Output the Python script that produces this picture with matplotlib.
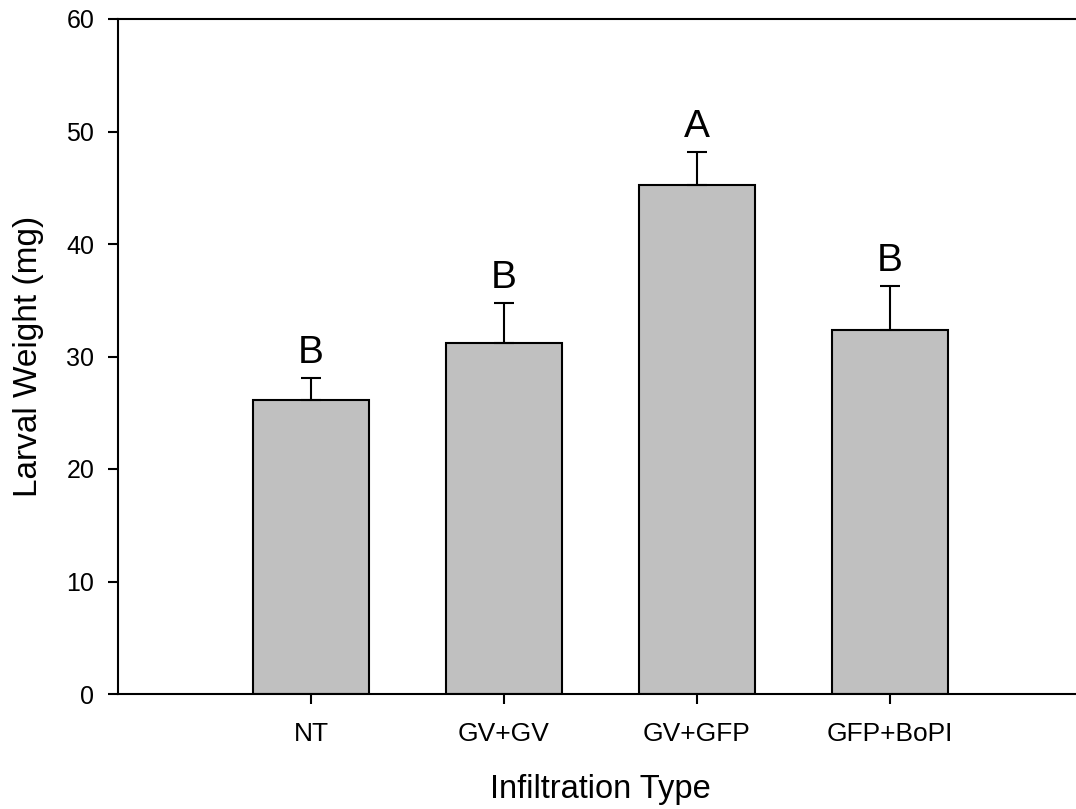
import matplotlib
matplotlib.use("Agg")
import matplotlib.pyplot as plt

categories = ["NT", "GV+GV", "GV+GFP", "GFP+BoPI"]
means = [26.1, 31.2, 45.2, 32.4]
errors = [2.0, 3.6, 3.0, 3.9]
letters = ["B", "B", "A", "B"]

plt.rcParams['font.family'] = ['Liberation Sans', 'DejaVu Sans']

W, H = 1076, 809
fig = plt.figure(figsize=(W / 100, H / 100), dpi=100)
left, bottom, top = 118, 694, 19
ax = fig.add_axes([left / W, 1 - bottom / H, 965 / W, (bottom - top) / H])

x = [1, 2, 3, 4]
ax.bar(x, means, width=0.6, color="#C0C0C0", edgecolor="black", linewidth=1.5, zorder=2)
for xi, m, e, l in zip(x, means, errors, letters):
    ax.errorbar([xi], [m], yerr=[[0], [e]], fmt="none", ecolor="black",
                elinewidth=1.5, capsize=7, capthick=1.5, zorder=3)
    ax.annotate(l, (xi, m + e), xytext=(0, 5), textcoords="offset points",
                ha="center", va="bottom", fontsize=28)

ax.set_xlim(0, 5)
ax.set_ylim(0, 60)
ax.set_yticks([0, 10, 20, 30, 40, 50, 60])
ax.set_xticks(x)
ax.set_xticklabels(categories)
ax.tick_params(axis="both", direction="out", length=7, width=1.5)
ax.tick_params(axis="x", pad=13, labelsize=19)
ax.tick_params(axis="y", pad=10, labelsize=18)
for s in ax.spines.values():
    s.set_linewidth(1.5)
ax.set_xlabel("Infiltration Type", fontsize=23.5, labelpad=20)
ax.set_ylabel("Larval Weight (mg)", fontsize=24, labelpad=16)

fig.savefig("out.png", dpi=100)
